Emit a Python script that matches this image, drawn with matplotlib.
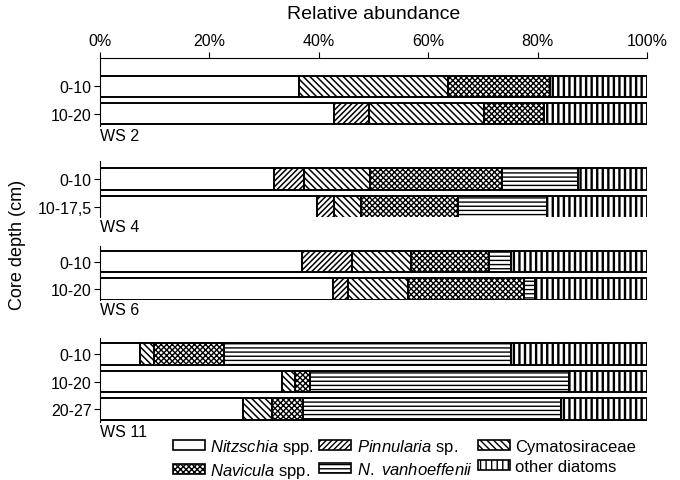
import numpy as np
import matplotlib.pyplot as plt
from matplotlib.patches import Patch

plt.rcParams['font.family'] = ['Liberation Sans', 'DejaVu Sans']
plt.rcParams['mathtext.fontset'] = 'custom'
plt.rcParams['mathtext.it'] = 'Liberation Sans:italic'
plt.rcParams['mathtext.rm'] = 'Liberation Sans'
plt.rcParams['hatch.linewidth'] = 1.0

stations = ['WS 2', 'WS 4', 'WS 6', 'WS 11']
depths = [['0-10', '10-20'], ['0-10', '10-17,5'], ['0-10', '10-20'], ['0-10', '10-20', '20-27']]

taxa = [r'$\it{Nitzschia}$ spp.', r'$\it{Pinnularia}$ sp.', 'Cymatosiraceae',
        r'$\it{Navicula}$ spp.', r'$\it{N.}$ $\it{vanhoeffenii}$', 'other diatoms']

# relative abundance (%) per sample, one list per taxon, samples in order of depths
nitzschia = [36.3, 42.7, 31.8, 39.6, 37.0, 42.6, 7.3, 33.2, 26.1]
pinnularia = [0.0, 6.4, 5.5, 3.1, 9.0, 2.8, 0.0, 0.0, 0.0]
cymatosiraceae = [27.3, 21.1, 12.1, 5.0, 10.9, 10.9, 2.6, 2.4, 5.4]
navicula = [18.6, 11.0, 24.1, 17.8, 14.2, 21.2, 12.7, 2.7, 5.6]
vanhoeffenii = [0.0, 0.0, 13.8, 16.2, 4.0, 2.1, 52.5, 47.4, 47.1]
other = [17.8, 18.8, 12.7, 18.3, 24.9, 20.4, 24.9, 14.3, 15.8]

values = [nitzschia, pinnularia, cymatosiraceae, navicula, vanhoeffenii, other]
hatches = ['', '//////', '\\\\\\\\\\', 'xxxxxx', '----', '|||']
hatch_lw = [1.0, 1.1, 1.1, 1.0, 1.0, 1.7]

W, H = 680, 481
fig = plt.figure(figsize=(W / 100, H / 100), dpi=100)

# axes boxes in pixels (top, bottom) and padding in bar units
boxes = [(59, 127), (162, 218), (247, 301), (339, 423)]
pads_top = [1.03, 0.65, 0.57, 0.58]
pads_bot = [0.45, 0.36, 0.40, 0.47]
x0, x1 = 100, 647


def set_hlw(artists, lw):
    for a in artists:
        if hasattr(a, 'set_hatch_linewidth'):
            a.set_hatch_linewidth(lw)


k = 0
for g, (st, dl) in enumerate(zip(stations, depths)):
    top, bot = boxes[g]
    ax = fig.add_axes([x0 / W, 1 - bot / H, (x1 - x0) / W, (bot - top) / H])
    n = len(dl)
    y = np.arange(n)
    left = np.zeros(n)
    for vals, h, hl in zip(values, hatches, hatch_lw):
        v = np.array(vals[k:k + n])
        bars = ax.barh(y, v, left=left, height=0.78, color='white', edgecolor='black',
                       hatch=h, linewidth=1.4)
        set_hlw(bars, hl)
        left += v
    k += n
    ax.set_xlim(0, 100)
    ax.set_ylim(n - 1 + pads_bot[g], -pads_top[g])
    ax.set_yticks(y)
    ax.set_yticklabels(dl, fontsize=11.5)
    ax.tick_params(axis='y', length=4, width=0.8, pad=2)
    ax.spines['right'].set_visible(False)
    ax.spines['bottom'].set_visible(False)
    ax.spines['left'].set_linewidth(0.8)
    if g == 0:
        ax.xaxis.tick_top()
        ax.set_xticks(np.arange(0, 101, 20))
        ax.set_xticklabels([f'{t}%' for t in range(0, 101, 20)], fontsize=11.5)
        ax.tick_params(axis='x', length=4, width=0.8, pad=3)
        ax.spines['top'].set_linewidth(0.8)
        ax.xaxis.set_label_position('top')
        ax.set_xlabel('Relative abundance', fontsize=14, labelpad=11)
    else:
        ax.spines['top'].set_visible(False)
        ax.set_xticks([])
    fig.text(x0 / W, 1 - (bot + 2) / H, st, fontsize=11.5, va='top', ha='left')

fig.text(18 / W, 1 - 245 / H, 'Core depth (cm)', rotation=90, fontsize=13,
         va='center', ha='center')

handles = []
for h, hl in zip(hatches, hatch_lw):
    p = Patch(facecolor='white', edgecolor='black', hatch=h, linewidth=1.2)
    set_hlw([p], hl)
    handles.append(p)
order = [0, 3, 1, 4, 2, 5]
fig.legend([handles[i] for i in order], [taxa[i] for i in order], ncol=3,
           loc='upper left', bbox_to_anchor=(158 / W, 1 - 423 / H), frameon=False,
           fontsize=12, handlelength=1.9, handleheight=0.6, columnspacing=0.3,
           labelspacing=0.3, handletextpad=0.35, borderpad=0.4)

fig.savefig('out.png', dpi=100)
